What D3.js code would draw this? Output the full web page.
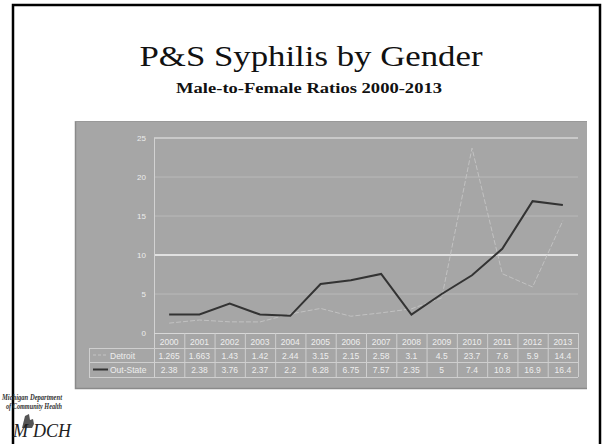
<!DOCTYPE html>
<html><head><meta charset="utf-8">
<script src="https://cdn.jsdelivr.net/npm/d3@7"></script>
<style>body{margin:0;background:#fff;}svg{display:block;}</style>
</head><body>
<svg id="c" width="602" height="444"></svg>
<script>
const years = ["2000","2001","2002","2003","2004","2005","2006","2007","2008","2009","2010","2011","2012","2013"];
const detroit = [1.265,1.663,1.43,1.42,2.44,3.15,2.15,2.58,3.1,4.5,23.7,7.6,5.9,14.4];
const outState = [2.38,2.38,3.76,2.37,2.2,6.28,6.75,7.57,2.35,5,7.4,10.8,16.9,16.4];
const yTicks = [0,5,10,15,20,25];
const seriesNames = ["Detroit","Out-State"];

const svg = d3.select("#c");
// slide border
svg.append("path").attr("d","M13,444 V5 H600 V444").attr("fill","none").attr("stroke","#000").attr("stroke-width",2.5);

// titles
svg.append("text").attr("x",311).attr("y",66).attr("text-anchor","middle")
  .attr("font-family","Liberation Serif, serif").attr("font-size",30).attr("fill","#111")
  .attr("textLength",343).attr("lengthAdjust","spacingAndGlyphs").text("P&S Syphilis by Gender");
svg.append("text").attr("x",309).attr("y",93).attr("text-anchor","middle")
  .attr("font-family","Liberation Serif, serif").attr("font-size",15).attr("font-weight","bold").attr("fill","#111")
  .attr("textLength",266).attr("lengthAdjust","spacingAndGlyphs").text("Male-to-Female Ratios 2000-2013");

// chart panel
svg.append("rect").attr("x",75).attr("y",121).attr("width",512).attr("height",268).attr("fill","#a6a6a6");
svg.append("path").attr("d","M75.5,121 V388.5 H587").attr("fill","none").attr("stroke","#8a8a8a").attr("stroke-width",1.5);
svg.append("path").attr("d","M75,121.5 H587").attr("fill","none").attr("stroke","#999").attr("stroke-width",1);

const x = d3.scaleBand().domain(years).range([154,578]);
const y = d3.scaleLinear().domain([0,25]).range([333,138]);

const g = svg.append("g");
// gridlines
g.selectAll("line.grid").data(yTicks.filter(t=>t>0)).enter().append("line")
  .attr("x1",154).attr("x2",578).attr("y1",d=>y(d)).attr("y2",d=>y(d))
  .attr("stroke",d=>d===10?"#f4f4f4":(d===25?"#d4d4d4":"#b9b9b9")).attr("stroke-width",d=>d===10||d===25?1.5:1);

// y axis
const yAxis = d3.axisLeft(y).tickValues(yTicks).tickSize(0).tickPadding(8);
const ya = svg.append("g").attr("transform","translate(154,0)").call(yAxis);
ya.select(".domain").remove();
ya.selectAll("text").attr("fill","#ececec").attr("font-family","Liberation Sans, Arial, sans-serif").attr("font-size",8);
svg.append("line").attr("x1",154.5).attr("x2",154.5).attr("y1",138).attr("y2",377).attr("stroke","#d2d2d2");

// data table
const tcol = "#cfcfcf";
const rowY = [333,348,362,377];
svg.append("line").attr("x1",154).attr("x2",578).attr("y1",333.5).attr("y2",333.5).attr("stroke","#d8d8d8");
[348,362,377].forEach(r=>svg.append("line").attr("x1",89).attr("x2",578).attr("y1",r+0.5).attr("y2",r+0.5).attr("stroke",tcol));
svg.append("line").attr("x1",89.5).attr("x2",89.5).attr("y1",348).attr("y2",377).attr("stroke",tcol);
svg.selectAll("line.col").data(years).enter().append("line")
  .attr("x1",d=>x(d)+x.bandwidth()+0.5).attr("x2",d=>x(d)+x.bandwidth()+0.5).attr("y1",333).attr("y2",377).attr("stroke",tcol);

const tf = "Liberation Sans, Arial, sans-serif";
svg.selectAll("text.yr").data(years).enter().append("text")
  .attr("x",d=>x(d)+x.bandwidth()/2).attr("y",344.5).attr("text-anchor","middle")
  .attr("font-family",tf).attr("font-size",8.5).attr("fill","#eeeeee").text(d=>d);
[detroit,outState].forEach((arr,i)=>{
  svg.selectAll("text.v"+i).data(arr).enter().append("text")
    .attr("x",(d,j)=>x(years[j])+x.bandwidth()/2).attr("y",rowY[i+1]+11).attr("text-anchor","middle")
    .attr("font-family",tf).attr("font-size",8.5).attr("fill","#eeeeee").text(d=>String(d));
  svg.append("text").attr("x",110).attr("y",rowY[i+1]+11).attr("font-family",tf).attr("font-size",8.5)
    .attr("fill","#eeeeee").text(seriesNames[i]);
});
// legend keys
svg.append("line").attr("x1",93).attr("x2",108).attr("y1",355).attr("y2",355).attr("stroke","#c4c4c4").attr("stroke-width",1).attr("stroke-dasharray","3,2");
svg.append("line").attr("x1",93).attr("x2",108).attr("y1",369.5).attr("y2",369.5).attr("stroke","#333").attr("stroke-width",2);

// lines
const line = d3.line().x((d,i)=>x(years[i])+x.bandwidth()/2).y(d=>y(d));
svg.append("path").datum(detroit).attr("d",line).attr("fill","none").attr("stroke","#c2c2c2").attr("stroke-width",1).attr("stroke-dasharray","5,2");
svg.append("path").datum(outState).attr("d",line).attr("fill","none").attr("stroke","#333").attr("stroke-width",2);

// logo
const lf = "Liberation Serif, serif";
svg.append("text").attr("x",2).attr("y",400).attr("font-family",lf).attr("font-style","italic").attr("font-weight","bold").attr("font-size",8)
  .attr("textLength",60).attr("lengthAdjust","spacingAndGlyphs").attr("fill","#333").text("Michigan Department");
svg.append("text").attr("x",6).attr("y",409).attr("font-family",lf).attr("font-style","italic").attr("font-weight","bold").attr("font-size",8)
  .attr("textLength",56).attr("lengthAdjust","spacingAndGlyphs").attr("fill","#333").text("of Community Health");
svg.append("path").attr("d","M22,428 L25,416 L29,414 L30,420 L33,419 L34,424 L32,428 Z").attr("fill","#555");
svg.append("text").attr("x",13).attr("y",437).attr("font-family",lf).attr("font-style","italic").attr("font-size",18).attr("fill","#222").text("M");
svg.append("text").attr("x",33).attr("y",437).attr("font-family",lf).attr("font-style","italic").attr("font-size",18).attr("fill","#222").text("DCH");
</script>
</body></html>
